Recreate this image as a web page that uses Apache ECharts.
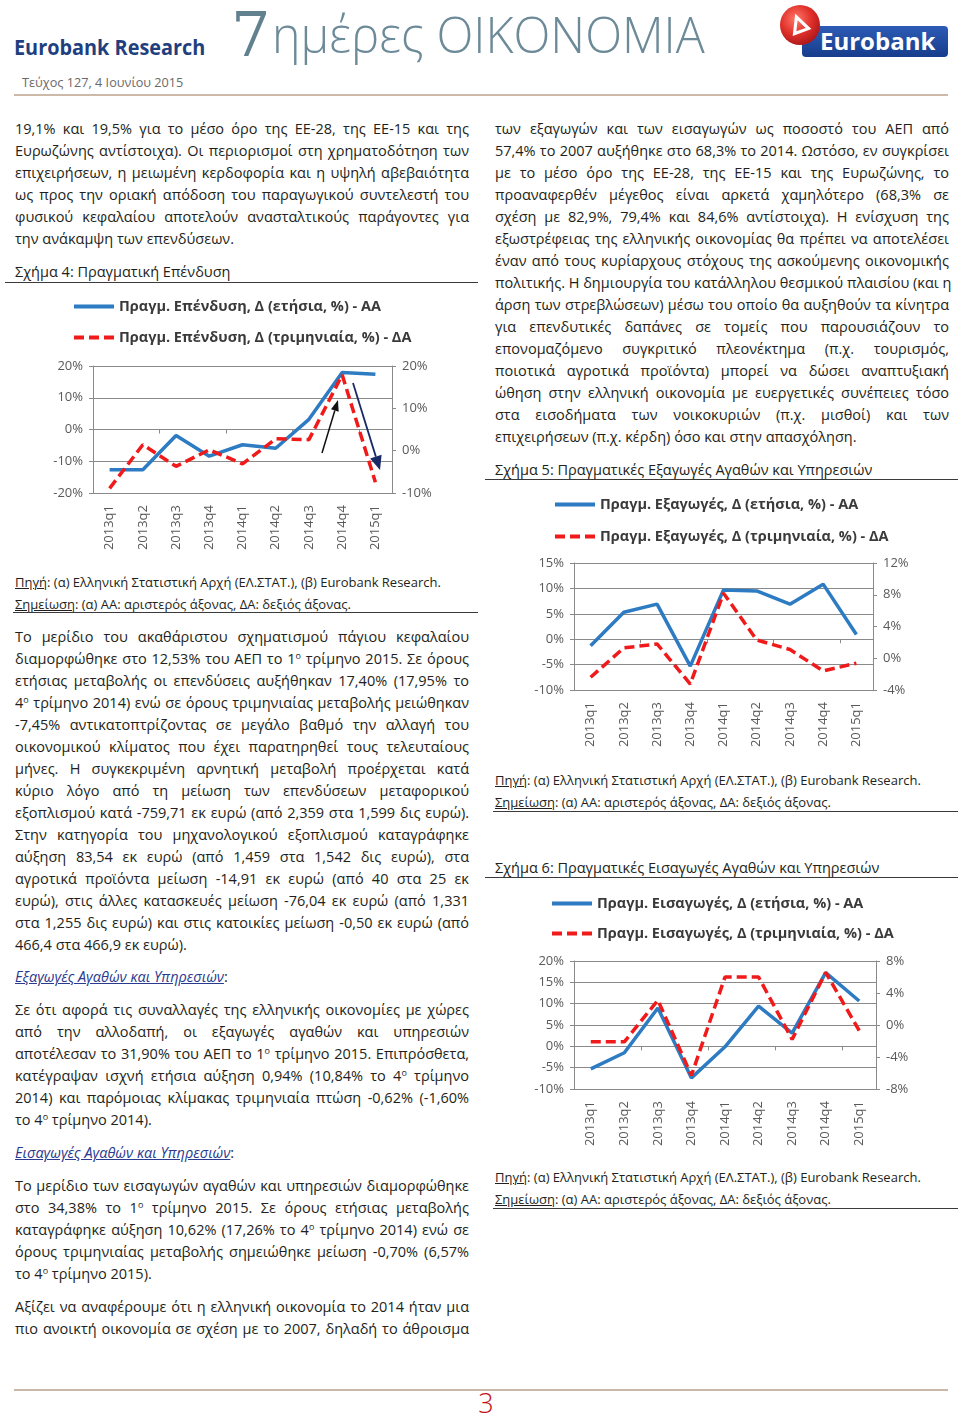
<!DOCTYPE html>
<html><head><meta charset="utf-8">
<script src="https://cdn.jsdelivr.net/npm/echarts@6/dist/echarts.min.js"></script>
<style>
html,body{margin:0;padding:0;background:#fff;}
#page{position:relative;width:960px;height:1415px;overflow:hidden;font-family:"Open Sans","Noto Sans",sans-serif;color:#231f20;}
.ln{position:absolute;height:22px;line-height:22px;font-size:14.5px;white-space:nowrap;}
.j{text-align:justify;text-align-last:justify;}
.l{text-align:left;}
sup{font-size:0.62em;vertical-align:0.55em;line-height:0;}
.rule{position:absolute;height:1px;background:#3a3a3a;}
.src{position:absolute;font-size:13px;line-height:22px;height:22px;white-space:nowrap;color:#231f20;}
.src u{text-decoration:underline;}
.ttl{position:absolute;font-size:14.5px;line-height:22px;height:22px;white-space:nowrap;color:#231f20;}
.hd{position:absolute;font-size:14.5px;line-height:22px;height:22px;white-space:nowrap;}
.hd i{color:#2a3b8f;text-decoration:underline;}
.chart{position:absolute;width:480px;height:270px;}
</style></head>
<body><div id="page">
  <!-- header -->
  <div id="ebr" style="position:absolute;left:14px;top:33px;font-weight:700;font-size:21px;line-height:28px;color:#1f3f7f;white-space:nowrap;transform-origin:left center;">Eurobank Research</div>
  <div id="seven" style="position:absolute;left:231px;top:-2px;font-family:'DejaVu Serif',serif;font-size:62px;line-height:74px;color:#62818f;white-space:nowrap;transform-origin:left top;">7</div>
  <div id="oik" style="position:absolute;left:272px;top:0px;font-weight:300;font-size:50px;line-height:68px;color:#6d8a99;white-space:nowrap;transform-origin:left top;">ημέρες ΟΙΚΟΝΟΜΙΑ</div>
  <div id="issue" style="position:absolute;left:22px;top:72px;font-size:13px;line-height:20px;color:#6a6a6a;white-space:nowrap;transform-origin:left center;">Τεύχος 127, 4 Ιουνίου 2015</div>
  <svg style="position:absolute;left:776px;top:2px;" width="176" height="58" viewBox="0 0 176 58">
    <defs>
      <radialGradient id="rg" cx="0.4" cy="0.35" r="0.7"><stop offset="0" stop-color="#ff7a6a"/><stop offset="0.55" stop-color="#e0302a"/><stop offset="1" stop-color="#a8161a"/></radialGradient>
      <linearGradient id="bg" x1="0" y1="0" x2="0" y2="1"><stop offset="0" stop-color="#2d5bb5"/><stop offset="1" stop-color="#173d8c"/></linearGradient>
    </defs>
    <rect x="26" y="24" width="146" height="31" rx="4" fill="url(#bg)"/>
    <text x="44" y="48" font-family="Open Sans, sans-serif" font-weight="700" font-size="24" fill="#fff">Eurobank</text>
    <circle cx="24" cy="23" r="20" fill="url(#rg)"/>
    <path d="M13 31 L23 11 L33 31 Z M18 28 L23 18 L28 28 Z" fill="#fff" fill-rule="evenodd" transform="rotate(-20 23 22)"/>
  </svg>
  <div style="position:absolute;left:14px;top:94px;width:934px;height:2px;background:#cdb9a9;"></div>

  <div id="textL"></div>
  <div id="textR"></div>

  <div class="ttl" style="left:15px;top:261px;">Σχήμα 4: Πραγματική Επένδυση</div>
  <div class="rule" style="left:5px;top:282px;width:473px;"></div>
  <div id="c4" class="chart" style="left:0px;top:290px;"></div>
  <div class="src" style="left:15px;top:571px;"><u>Πηγή</u>: (α) Ελληνική Στατιστική Αρχή (ΕΛ.ΣΤΑΤ.), (β) Eurobank Research.</div>
  <div class="src" style="left:15px;top:593px;"><u>Σημείωση</u>: (α) ΑΑ: αριστερός άξονας, ΔΑ: δεξιός άξονας.</div>
  <div class="rule" style="left:13px;top:612px;width:465px;"></div>

  <div class="ttl" style="left:495px;top:459px;">Σχήμα 5: Πραγματικές Εξαγωγές Αγαθών και Υπηρεσιών</div>
  <div class="rule" style="left:485px;top:479px;width:473px;"></div>
  <div id="c5" class="chart" style="left:480px;top:485px;"></div>
  <div class="src" style="left:495px;top:769px;"><u>Πηγή</u>: (α) Ελληνική Στατιστική Αρχή (ΕΛ.ΣΤΑΤ.), (β) Eurobank Research.</div>
  <div class="src" style="left:495px;top:791px;"><u>Σημείωση</u>: (α) ΑΑ: αριστερός άξονας, ΔΑ: δεξιός άξονας.</div>
  <div class="rule" style="left:493px;top:811px;width:465px;"></div>

  <div class="ttl" style="left:495px;top:857px;">Σχήμα 6: Πραγματικές Εισαγωγές Αγαθών και Υπηρεσιών</div>
  <div class="rule" style="left:485px;top:877px;width:473px;"></div>
  <div id="c6" class="chart" style="left:480px;top:885px;"></div>
  <div class="src" style="left:495px;top:1166px;"><u>Πηγή</u>: (α) Ελληνική Στατιστική Αρχή (ΕΛ.ΣΤΑΤ.), (β) Eurobank Research.</div>
  <div class="src" style="left:495px;top:1188px;"><u>Σημείωση</u>: (α) ΑΑ: αριστερός άξονας, ΔΑ: δεξιός άξονας.</div>
  <div class="rule" style="left:493px;top:1208px;width:465px;"></div>

  <!-- footer -->
  <div style="position:absolute;left:14px;top:1389px;width:934px;height:2px;background:#c9b8a8;"></div>
  <div style="position:absolute;left:476px;top:1386px;width:20px;text-align:center;font-weight:300;font-size:27px;line-height:34px;color:#c0141c;">3</div>
</div>
<script>
// ---------- chart data ----------
const quarters = ['2013q1','2013q2','2013q3','2013q4','2014q1','2014q2','2014q3','2014q4','2015q1'];
const invAnnual    = [-12.7, -12.7, -1.9, -8.4, -4.8, -5.9, 3.2, 17.95, 17.40];
const invQuarterly = [-8.9, 1.4, -3.7, 0.2, -3.1, 2.8, 2.6, 17.9, -7.45];
const expAnnual    = [-1.3, 5.3, 6.9, -5.3, 9.7, 9.5, 6.9, 10.84, 0.94];
const expQuarterly = [-2.4, 1.3, 1.8, -3.25, 8.2, 2.3, 1.1, -1.60, -0.62];
const impAnnual    = [-5.3, -1.5, 9.0, -7.4, -0.1, 9.4, 3.1, 17.26, 10.62];
const impQuarterly = [-2.1, -2.1, 3.1, -6.3, 6.0, 6.0, -1.8, 6.57, -0.70];
const invNames = ['Πραγμ. Επένδυση, Δ (ετήσια, %) - ΑΑ', 'Πραγμ. Επένδυση, Δ (τριμηνιαία, %) - ΔΑ'];
const expNames = ['Πραγμ. Εξαγωγές, Δ (ετήσια, %) - ΑΑ', 'Πραγμ. Εξαγωγές, Δ (τριμηνιαία, %) - ΔΑ'];
const impNames = ['Πραγμ. Εισαγωγές, Δ (ετήσια, %) - ΑΑ', 'Πραγμ. Εισαγωγές, Δ (τριμηνιαία, %) - ΔΑ'];
const invLeftAxis = {min: -20, max: 20, interval: 10};
const invRightAxis = {min: -10, max: 20, interval: 10};
const expLeftAxis = {min: -10, max: 15, interval: 5};
const expRightAxis = {min: -4, max: 12, interval: 4};
const impLeftAxis = {min: -10, max: 20, interval: 5};
const impRightAxis = {min: -8, max: 8, interval: 4};

// ---------- body text ----------
const S = '<sup>ο</sup>';
const leftLines = [
 [129,'19,1% και 19,5% για το μέσο όρο της ΕΕ-28, της ΕΕ-15 και της',1],
 [151,'Ευρωζώνης αντίστοιχα). Οι περιορισμοί στη χρηματοδότηση των',1],
 [173,'επιχειρήσεων, η μειωμένη κερδοφορία και η υψηλή αβεβαιότητα',1],
 [195,'ως προς την οριακή απόδοση του παραγωγικού συντελεστή του',1],
 [217,'φυσικού κεφαλαίου αποτελούν ανασταλτικούς παράγοντες για',1],
 [239,'την ανάκαμψη των επενδύσεων.',0],
 [637,'Το μερίδιο του ακαθάριστου σχηματισμού πάγιου κεφαλαίου',1],
 [659,'διαμορφώθηκε στο 12,53% του ΑΕΠ το 1'+S+' τρίμηνο 2015. Σε όρους',1],
 [681,'ετήσιας μεταβολής οι επενδύσεις αυξήθηκαν 17,40% (17,95% το',1],
 [703,'4'+S+' τρίμηνο 2014) ενώ σε όρους τριμηνιαίας μεταβολής μειώθηκαν',1],
 [725,'-7,45% αντικατοπτρίζοντας σε μεγάλο βαθμό την αλλαγή του',1],
 [747,'οικονομικού κλίματος που έχει παρατηρηθεί τους τελευταίους',1],
 [769,'μήνες. Η συγκεκριμένη αρνητική μεταβολή προέρχεται κατά',1],
 [791,'κύριο λόγο από τη μείωση των επενδύσεων μεταφορικού',1],
 [813,'εξοπλισμού κατά -759,71 εκ ευρώ (από 2,359 στα 1,599 δις ευρώ).',1],
 [835,'Στην κατηγορία του μηχανολογικού εξοπλισμού καταγράφηκε',1],
 [857,'αύξηση 83,54 εκ ευρώ (από 1,459 στα 1,542 δις ευρώ), στα',1],
 [879,'αγροτικά προϊόντα μείωση -14,91 εκ ευρώ (από 40 στα 25 εκ',1],
 [901,'ευρώ), στις άλλες κατασκευές μείωση -76,04 εκ ευρώ (από 1,331',1],
 [923,'στα 1,255 δις ευρώ) και στις κατοικίες μείωση -0,50 εκ ευρώ (από',1],
 [945,'466,4 στα 466,9 εκ ευρώ).',0],
 [1010,'Σε ότι αφορά τις συναλλαγές της ελληνικής οικονομίες με χώρες',1],
 [1032,'από την αλλοδαπή, οι εξαγωγές αγαθών και υπηρεσιών',1],
 [1054,'αποτέλεσαν το 31,90% του ΑΕΠ το 1'+S+' τρίμηνο 2015. Επιπρόσθετα,',1],
 [1076,'κατέγραψαν ισχνή ετήσια αύξηση 0,94% (10,84% το 4'+S+' τρίμηνο',1],
 [1098,'2014) και παρόμοιας κλίμακας τριμηνιαία πτώση -0,62% (-1,60%',1],
 [1120,'το 4'+S+' τρίμηνο 2014).',0],
 [1186,'Το μερίδιο των εισαγωγών αγαθών και υπηρεσιών διαμορφώθηκε',1],
 [1208,'στο 34,38% το 1'+S+' τρίμηνο 2015. Σε όρους ετήσιας μεταβολής',1],
 [1230,'καταγράφηκε αύξηση 10,62% (17,26% το 4'+S+' τρίμηνο 2014) ενώ σε',1],
 [1252,'όρους τριμηνιαίας μεταβολής σημειώθηκε μείωση -0,70% (6,57%',1],
 [1274,'το 4'+S+' τρίμηνο 2015).',0],
 [1307,'Αξίζει να αναφέρουμε ότι η ελληνική οικονομία το 2014 ήταν μια',1],
 [1329,'πιο ανοικτή οικονομία σε σχέση με το 2007, δηλαδή το άθροισμα',1]
];
const rightLines = [
 [129,'των εξαγωγών και των εισαγωγών ως ποσοστό του ΑΕΠ από',1],
 [151,'57,4% το 2007 αυξήθηκε στο 68,3% το 2014. Ωστόσο, εν συγκρίσει',1],
 [173,'με το μέσο όρο της ΕΕ-28, της ΕΕ-15 και της Ευρωζώνης, το',1],
 [195,'προαναφερθέν μέγεθος είναι αρκετά χαμηλότερο (68,3% σε',1],
 [217,'σχέση με 82,9%, 79,4% και 84,6% αντίστοιχα). Η ενίσχυση της',1],
 [239,'εξωστρέφειας της ελληνικής οικονομίας θα πρέπει να αποτελέσει',1],
 [261,'έναν από τους κυρίαρχους στόχους της ασκούμενης οικονομικής',1],
 [283,'πολιτικής. Η δημιουργία του κατάλληλου θεσμικού πλαισίου (και η',1],
 [305,'άρση των στρεβλώσεων) μέσω του οποίο θα αυξηθούν τα κίνητρα',1],
 [327,'για επενδυτικές δαπάνες σε τομείς που παρουσιάζουν το',1],
 [349,'επονομαζόμενο συγκριτικό πλεονέκτημα (π.χ. τουρισμός,',1],
 [371,'ποιοτικά αγροτικά προϊόντα) μπορεί να δώσει αναπτυξιακή',1],
 [393,'ώθηση στην ελληνική οικονομία με ευεργετικές συνέπειες τόσο',1],
 [415,'στα εισοδήματα των νοικοκυριών (π.χ. μισθοί) και των',1],
 [437,'επιχειρήσεων (π.χ. κέρδη) όσο και στην απασχόληση.',0]
];
function addLines(container, lines, left){
  const c = document.getElementById(container);
  lines.forEach(([y, html, j]) => {
    const d = document.createElement('div');
    d.className = 'ln ' + (j ? 'j' : 'l');
    d.style.left = left + 'px'; d.style.top = (y - 11) + 'px'; d.style.width = '454px';
    d.innerHTML = html; c.appendChild(d);
  });
}
addLines('textL', leftLines, 15);
addLines('textR', rightLines, 495);
[[977,'Εξαγωγές Αγαθών και Υπηρεσιών'],[1153,'Εισαγωγές Αγαθών και Υπηρεσιών']].forEach(([y,t])=>{
  const d=document.createElement('div'); d.className='hd'; d.style.left='15px'; d.style.top=(y-11)+'px';
  d.innerHTML='<i>'+t+'</i>:'; document.getElementById('textL').appendChild(d);
});
function fitW(id, w){ const e=document.getElementById(id); const sw=e.scrollWidth; e.style.transform='scaleX('+(w/sw)+')'; }
fitW('ebr', 191); fitW('oik', 433); fitW('issue', 161);

// ---------- charts ----------
const GRAY = '#8a8a8a';
const FONT = '"Open Sans","Noto Sans",sans-serif';
function arrow(x1,y1,x2,y2,color,w,L,W){
  const a=Math.atan2(y2-y1,x2-x1), c=Math.cos(a), s=Math.sin(a);
  const bx=x2-L*c, by=y2-L*s;
  return [
    {type:'line', shape:{x1,y1,x2:bx,y2:by}, style:{stroke:color,lineWidth:w}, z:100},
    {type:'polygon', shape:{points:[[x2,y2],[bx+W*s,by-W*c],[bx-W*s,by+W*c]]}, style:{fill:color}, z:100}
  ];
}
function makeChart(id, names, annual, quarterly, leftAx, rightAx, grid, legendLeft, legendTops, graphic){
  const ch = echarts.init(document.getElementById(id), null, {renderer:'canvas'});
  const legText = {fontFamily:FONT, fontWeight:'bold', fontSize:14.5, color:'#3a3a3a'};
  const legBase = {left:legendLeft, itemWidth:40, itemHeight:14, itemGap:4, textStyle:legText, padding:0,
                   itemStyle:{opacity:0}, lineStyle:{width:4}};
  const yBase = {
    axisLine:{show:true, lineStyle:{color:GRAY, width:1}},
    axisTick:{show:true, length:4, lineStyle:{color:GRAY}},
    axisLabel:{formatter:'{value}%', fontFamily:FONT, fontSize:13, color:'#595959', margin:10}
  };
  ch.setOption({
    animation:false,
    legend:[
      Object.assign({data:[names[0]], top:legendTops[0]}, legBase),
      Object.assign({data:[names[1]], top:legendTops[1]}, legBase)
    ],
    grid:Object.assign({containLabel:false}, grid),
    xAxis:[
      {type:'category', data:quarters, boundaryGap:true, position:'bottom',
       axisLine:{show:true, onZero:true, onZeroAxisIndex:0, lineStyle:{color:GRAY, width:1}},
       axisTick:{show:true, length:4, lineStyle:{color:GRAY}},
       axisLabel:{show:false}, splitLine:{show:false}},
      {type:'category', data:quarters, boundaryGap:true, position:'bottom',
       axisLine:{show:false, onZero:false}, axisTick:{show:false},
       axisLabel:{rotate:90, fontFamily:FONT, fontSize:13, color:'#595959', margin:12}}
    ],
    yAxis:[
      Object.assign({type:'value', position:'left', min:leftAx.min, max:leftAx.max, interval:leftAx.interval,
        splitLine:{show:true, lineStyle:{color:GRAY, width:1}}}, yBase),
      Object.assign({type:'value', position:'right', min:rightAx.min, max:rightAx.max, interval:rightAx.interval,
        splitLine:{show:false}}, yBase)
    ],
    series:[
      {name:names[0], type:'line', data:annual, xAxisIndex:0, yAxisIndex:0, symbol:'none',
       lineStyle:{color:'#2d7bc2', width:3.5}, itemStyle:{color:'#2d7bc2'}, z:3},
      {name:names[1], type:'line', data:quarterly, xAxisIndex:0, yAxisIndex:1, symbol:'none',
       lineStyle:{color:'#f01a1a', width:3.5, type:[10,5]}, itemStyle:{color:'#f01a1a'}, z:4}
    ],
    graphic: graphic || []
  });
  return ch;
}
makeChart('c4', invNames, invAnnual, invQuarterly, invLeftAxis, invRightAxis,
  {left:93, right:88, top:76, height:127}, 72, [9, 40],
  [].concat(arrow(322,163,338,110,'#111',1.5,11,4), arrow(353,93,380,180,'#1a2a66',1.8,14,6)));
makeChart('c5', expNames, expAnnual, expQuarterly, expLeftAxis, expRightAxis,
  {left:94, right:87, top:78, height:127}, 73, [12, 44]);
makeChart('c6', impNames, impAnnual, impQuarterly, impLeftAxis, impRightAxis,
  {left:94, right:84, top:76, height:128}, 70, [11, 41]);
</script>
</body></html>
